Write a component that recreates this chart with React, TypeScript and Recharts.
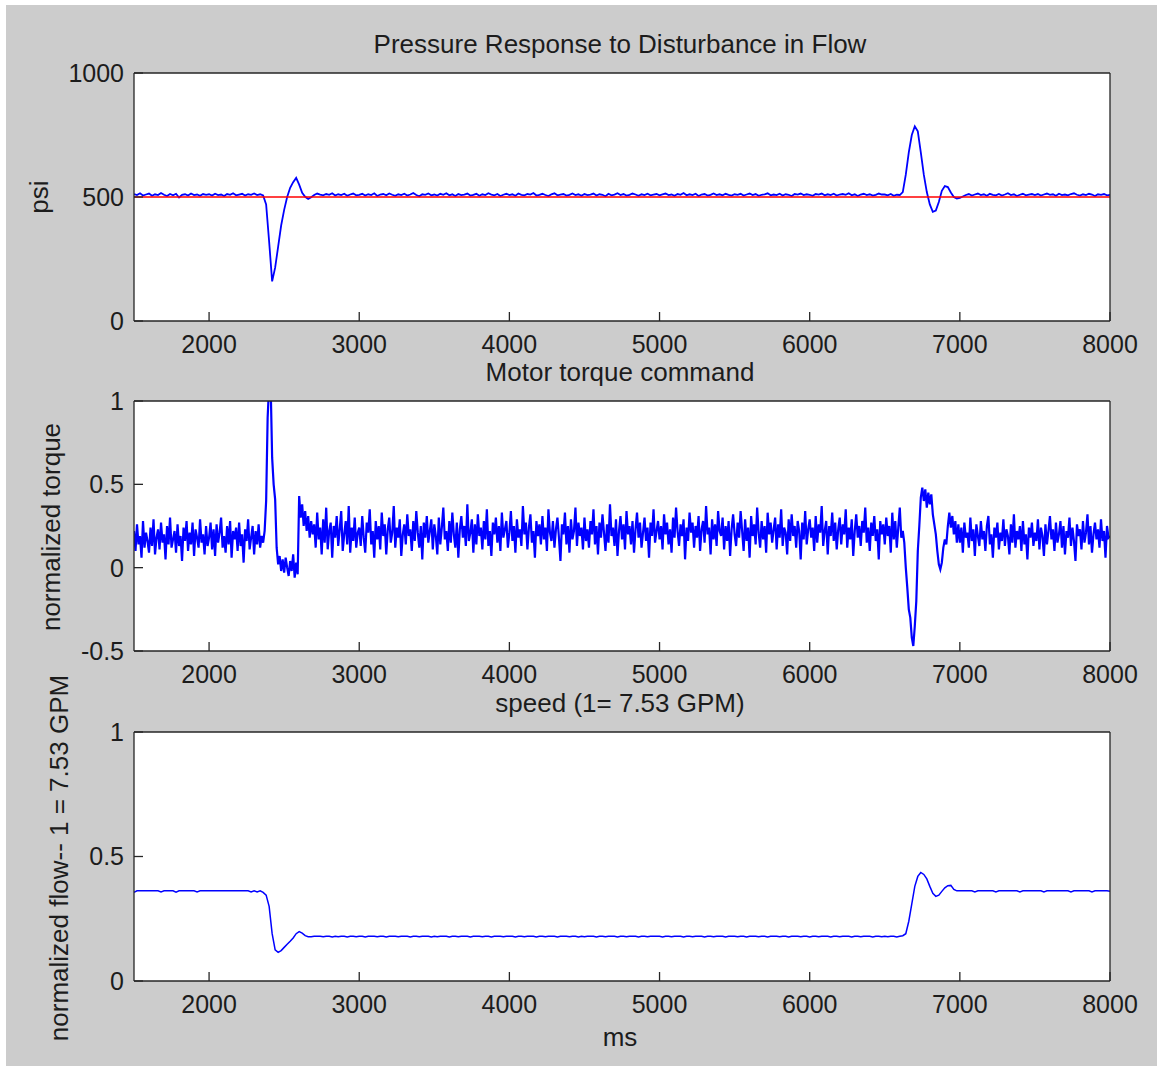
import React from "react";
import { Line, LineChart, XAxis, YAxis } from "recharts";

// sampling grids of the logged run (ms)
const SAMPLE_START = 1500;
const SLOW_STEP = 20; // pressure + speed
const FAST_STEP = 10; // torque command

const X_TICKS = [2000, 3000, 4000, 5000, 6000, 7000, 8000];
const PSI_TICKS = [0, 500, 1000];
const TORQUE_TICKS = [-0.5, 0, 0.5, 1];
const FLOW_TICKS = [0, 0.5, 1];

const SETPOINT_PSI = 500;

// pressure (psi), 20 ms samples, one row = 500 ms
const PRESSURE = [
  512, 508, 515, 506, 510, 514, 505, 511, 508, 516, 509, 504, 512, 507, 513, 498, 509, 511, 506, 514, 508, 510, 505, 512, 509,
  511, 506, 513, 508, 510, 504, 512, 509, 515, 507, 510, 513, 506, 511, 509, 514, 508, 511, 506, 470, 320, 160, 215, 300, 385,
  448, 500, 537, 560, 577, 550, 517, 501, 492, 499, 508, 514, 510, 507, 512, 509, 515, 506, 511, 508, 513, 505, 510, 514, 507,
  509, 513, 506, 511, 508, 515, 504, 510, 512, 507, 514, 509, 505, 511, 508, 513, 506, 510, 516, 508, 503, 511, 509, 514, 507,
  510, 506, 513, 509, 515, 507, 511, 504, 512, 508, 510, 514, 506, 509, 513, 505, 511, 508, 515, 510, 507, 512, 504, 509, 513,
  508, 511, 505, 514, 509, 507, 512, 510, 516, 506, 509, 513, 508, 504, 511, 515, 507, 510, 512, 506, 509, 514, 508, 511, 505,
  512, 508, 510, 514, 506, 511, 509, 503, 513, 507, 510, 515, 508, 512, 506, 509, 514, 510, 505, 511, 508, 513, 507, 510, 512,
  507, 511, 514, 508, 510, 505, 512, 509, 516, 507, 511, 508, 513, 504, 510, 512, 506, 509, 514, 508, 511, 507, 513, 509, 506,
  511, 509, 513, 506, 510, 514, 508, 512, 505, 509, 511, 515, 507, 510, 508, 513, 506, 511, 509, 504, 512, 510, 514, 508, 511,
  509, 505, 512, 510, 514, 507, 511, 508, 513, 506, 510, 512, 509, 515, 507, 511, 504, 510, 513, 508, 511, 506, 509, 514, 510,
  510, 507, 512, 505, 509, 508, 520, 590, 680, 750, 785, 765, 680, 590, 520, 470, 440, 445, 480, 525, 544, 540, 518, 500, 494,
  496, 502, 508, 512, 506, 510, 514, 508, 511, 505, 513, 509, 507, 512, 506, 510, 515, 508, 511, 504, 509, 513, 507, 510, 512,
  508, 512, 506, 510, 514, 509, 511, 505, 513, 508, 510, 507, 512, 515, 509, 506, 511, 508, 513, 510, 504, 511, 509, 512, 507,
  509,
];

// pump speed, normalized flow (1 = 7.53 GPM), 20 ms samples
const FLOW = [
  0.356, 0.362, 0.362, 0.362, 0.362, 0.362, 0.362, 0.362, 0.362, 0.358, 0.362, 0.362, 0.362, 0.362, 0.357, 0.362, 0.362, 0.362, 0.362, 0.362, 0.362, 0.358, 0.362, 0.362, 0.362,
  0.362, 0.362, 0.362, 0.362, 0.362, 0.362, 0.362, 0.362, 0.362, 0.362, 0.362, 0.362, 0.362, 0.362, 0.358, 0.362, 0.358, 0.362, 0.356, 0.345, 0.3, 0.19, 0.125, 0.115, 0.122,
  0.135, 0.148, 0.16, 0.173, 0.19, 0.198, 0.192, 0.182, 0.178, 0.178, 0.18, 0.18, 0.18, 0.178, 0.18, 0.18, 0.177, 0.18, 0.178, 0.18, 0.18, 0.177, 0.18, 0.18, 0.178,
  0.18, 0.18, 0.177, 0.18, 0.18, 0.18, 0.178, 0.18, 0.18, 0.177, 0.18, 0.18, 0.18, 0.178, 0.18, 0.18, 0.18, 0.177, 0.18, 0.18, 0.178, 0.18, 0.18, 0.18, 0.177,
  0.18, 0.178, 0.18, 0.18, 0.18, 0.177, 0.18, 0.18, 0.178, 0.18, 0.18, 0.18, 0.177, 0.18, 0.18, 0.18, 0.178, 0.18, 0.18, 0.177, 0.18, 0.18, 0.18, 0.178, 0.18,
  0.18, 0.18, 0.177, 0.18, 0.18, 0.178, 0.18, 0.18, 0.18, 0.177, 0.18, 0.18, 0.178, 0.18, 0.18, 0.18, 0.177, 0.18, 0.18, 0.18, 0.178, 0.18, 0.18, 0.177, 0.18,
  0.178, 0.18, 0.18, 0.18, 0.177, 0.18, 0.18, 0.178, 0.18, 0.18, 0.18, 0.177, 0.18, 0.18, 0.178, 0.18, 0.18, 0.18, 0.177, 0.18, 0.18, 0.178, 0.18, 0.18, 0.18,
  0.18, 0.177, 0.18, 0.18, 0.178, 0.18, 0.18, 0.18, 0.177, 0.18, 0.18, 0.178, 0.18, 0.18, 0.18, 0.177, 0.18, 0.18, 0.178, 0.18, 0.18, 0.18, 0.177, 0.18, 0.18,
  0.18, 0.178, 0.18, 0.18, 0.177, 0.18, 0.18, 0.18, 0.178, 0.18, 0.18, 0.177, 0.18, 0.18, 0.18, 0.178, 0.18, 0.18, 0.177, 0.18, 0.18, 0.18, 0.178, 0.18, 0.18,
  0.177, 0.18, 0.18, 0.178, 0.18, 0.18, 0.18, 0.177, 0.18, 0.18, 0.178, 0.18, 0.18, 0.18, 0.177, 0.18, 0.18, 0.178, 0.18, 0.18, 0.18, 0.177, 0.18, 0.18, 0.178,
  0.18, 0.178, 0.18, 0.18, 0.177, 0.18, 0.182, 0.19, 0.24, 0.31, 0.38, 0.42, 0.436, 0.428, 0.41, 0.38, 0.352, 0.34, 0.345, 0.36, 0.374, 0.383, 0.384, 0.368, 0.362,
  0.362, 0.362, 0.362, 0.362, 0.362, 0.358, 0.362, 0.362, 0.362, 0.362, 0.362, 0.362, 0.358, 0.362, 0.362, 0.362, 0.362, 0.362, 0.362, 0.362, 0.358, 0.362, 0.362, 0.362, 0.362,
  0.362, 0.362, 0.362, 0.358, 0.362, 0.362, 0.362, 0.362, 0.362, 0.362, 0.362, 0.362, 0.358, 0.362, 0.362, 0.362, 0.362, 0.362, 0.362, 0.358, 0.362, 0.362, 0.362, 0.362, 0.362,
  0.36,
];

// normalized motor torque command, 10 ms samples, one row = 500 ms
const TORQUE = [
  // 1500
  0.22, 0.1, 0.26, 0.14, 0.19, 0.06, 0.28, 0.12, 0.21, 0.16,
  0.09, 0.24, 0.13, 0.29, 0.08, 0.18, 0.23, 0.11, 0.27, 0.15,
  0.2, 0.05, 0.25, 0.14, 0.3, 0.12, 0.17, 0.22, 0.09, 0.26,
  0.13, 0.19, 0.04, 0.24, 0.16, 0.28, 0.1, 0.21, 0.14, 0.27,
  0.07, 0.23, 0.18, 0.12, 0.29, 0.15, 0.2, 0.08, 0.25, 0.13,
  // 2000
  0.18, 0.27, 0.11, 0.23, 0.07, 0.26, 0.15, 0.21, 0.3, 0.12,
  0.19, 0.09, 0.25, 0.14, 0.28, 0.06, 0.22, 0.17, 0.24, 0.1,
  0.27, 0.13, 0.2, 0.03, 0.23, 0.16, 0.29, 0.11, 0.18, 0.25,
  0.08, 0.22, 0.14, 0.26, 0.12, 0.19, 0.15, 0.22, 0.4, 0.9,
  1.1, 1.1, 0.66, 0.5, 0.41, 0.12, 0.02, 0.07, -0.02, 0.05,
  // 2500
  -0.03, 0.06, 0.0, -0.05, 0.04, -0.02, 0.08, -0.06, 0.03, -0.04,
  0.43, 0.3, 0.38, 0.25, 0.34, 0.22, 0.31, 0.18, 0.28, 0.2,
  0.26, 0.12, 0.33, 0.17, 0.24, 0.08, 0.29, 0.15, 0.36, 0.11,
  0.22, 0.27, 0.06, 0.25, 0.18, 0.31, 0.13, 0.23, 0.34, 0.1,
  0.2, 0.28, 0.14, 0.37, 0.09, 0.24, 0.16, 0.3, 0.12, 0.21,
  // 3000
  0.24, 0.13, 0.31, 0.18, 0.09, 0.27, 0.21, 0.35, 0.14, 0.22,
  0.06, 0.28, 0.17, 0.25, 0.11, 0.33, 0.19, 0.26, 0.08, 0.23,
  0.3, 0.15, 0.21, 0.37, 0.12, 0.24, 0.18, 0.29, 0.07, 0.2,
  0.26, 0.14, 0.32, 0.19, 0.23, 0.1, 0.28, 0.16, 0.34, 0.21,
  0.12, 0.25, 0.05, 0.27, 0.18, 0.31, 0.15, 0.22, 0.29, 0.11,
  // 3500
  0.26, 0.19, 0.08, 0.3, 0.14, 0.24, 0.36, 0.17, 0.22, 0.1,
  0.28, 0.15, 0.33, 0.2, 0.12, 0.27, 0.06, 0.23, 0.31, 0.18,
  0.25, 0.13, 0.38, 0.16, 0.21, 0.29, 0.09, 0.26, 0.14, 0.32,
  0.19, 0.24, 0.11, 0.28, 0.17, 0.35, 0.13, 0.22, 0.07, 0.27,
  0.2, 0.3, 0.15, 0.25, 0.1, 0.33, 0.18, 0.23, 0.28, 0.12,
  // 4000
  0.21, 0.34, 0.16, 0.25, 0.09, 0.29, 0.18, 0.23, 0.13, 0.37,
  0.2, 0.27, 0.11, 0.24, 0.32, 0.15, 0.22, 0.06, 0.28, 0.19,
  0.26, 0.14, 0.31, 0.17, 0.24, 0.1, 0.35, 0.21, 0.16, 0.28,
  0.12, 0.23, 0.3, 0.18, 0.04, 0.26, 0.2, 0.33, 0.14, 0.25,
  0.09, 0.29, 0.17, 0.22, 0.36, 0.13, 0.27, 0.19, 0.24, 0.11,
  // 4500
  0.3, 0.16, 0.23, 0.12, 0.28, 0.2, 0.35, 0.14, 0.25, 0.08,
  0.27, 0.18, 0.32, 0.21, 0.1, 0.26, 0.15, 0.38, 0.19, 0.24,
  0.13, 0.29, 0.07, 0.22, 0.31, 0.17, 0.26, 0.11, 0.34, 0.2,
  0.25, 0.14, 0.28, 0.09, 0.23, 0.33, 0.18, 0.27, 0.12, 0.21,
  0.3, 0.16, 0.24, 0.06, 0.27, 0.19, 0.35, 0.15, 0.22, 0.28,
  // 5000
  0.17, 0.25, 0.11, 0.32, 0.2, 0.27, 0.14, 0.23, 0.09, 0.3,
  0.18, 0.36, 0.22, 0.13, 0.26, 0.19, 0.29, 0.05, 0.24, 0.16,
  0.33, 0.21, 0.27, 0.12, 0.25, 0.18, 0.31, 0.1, 0.23, 0.28,
  0.15, 0.37, 0.2, 0.24, 0.08, 0.29, 0.17, 0.26, 0.13, 0.34,
  0.22, 0.19, 0.3, 0.11, 0.25, 0.16, 0.28, 0.07, 0.23, 0.32,
  // 5500
  0.2, 0.13, 0.27, 0.18, 0.34, 0.22, 0.1, 0.29, 0.16, 0.24,
  0.06, 0.31, 0.19, 0.26, 0.14, 0.36, 0.21, 0.12, 0.28, 0.17,
  0.25, 0.09, 0.33, 0.2, 0.27, 0.15, 0.23, 0.3, 0.11, 0.26,
  0.18, 0.35, 0.13, 0.24, 0.21, 0.08, 0.29, 0.16, 0.32, 0.19,
  0.25, 0.12, 0.28, 0.22, 0.05, 0.27, 0.17, 0.34, 0.14, 0.23,
  // 6000
  0.29, 0.18, 0.24, 0.1, 0.31, 0.15, 0.26, 0.21, 0.37, 0.13,
  0.22, 0.28, 0.08, 0.25, 0.19, 0.33, 0.16, 0.27, 0.11, 0.23,
  0.3, 0.14, 0.26, 0.2, 0.35, 0.12, 0.24, 0.17, 0.29, 0.07,
  0.22, 0.32, 0.18, 0.25, 0.13, 0.28, 0.21, 0.36, 0.15, 0.24,
  0.1, 0.27, 0.19, 0.31, 0.16, 0.23, 0.05, 0.28, 0.2, 0.26,
  // 6500
  0.14, 0.3, 0.19, 0.25, 0.09, 0.33, 0.17, 0.28, 0.12, 0.24,
  0.36, 0.18, 0.22, 0.15, 0.0, -0.12, -0.25, -0.3, -0.42, -0.47,
  -0.35, -0.2, 0.1, 0.25, 0.42, 0.48, 0.4, 0.47, 0.36, 0.45,
  0.38, 0.44, 0.32, 0.26, 0.2, 0.1, 0.02, -0.01, 0.03, 0.12,
  0.17, 0.14, 0.25, 0.33, 0.24, 0.31, 0.2, 0.28, 0.15, 0.26,
  // 7000
  0.15, 0.24, 0.09, 0.27, 0.18, 0.21, 0.12, 0.3, 0.16, 0.23,
  0.07, 0.26, 0.19, 0.13, 0.28, 0.17, 0.22, 0.1, 0.25, 0.31,
  0.14, 0.2, 0.06, 0.24, 0.18, 0.27, 0.11, 0.21, 0.16, 0.29,
  0.13, 0.23, 0.19, 0.08, 0.26, 0.15, 0.32, 0.12, 0.22, 0.17,
  0.25, 0.1, 0.28, 0.14, 0.2, 0.05, 0.24, 0.18, 0.27, 0.13,
  // 7500
  0.21, 0.16, 0.29, 0.11, 0.24, 0.19, 0.07, 0.26, 0.14, 0.22,
  0.31, 0.17, 0.23, 0.1, 0.27, 0.15, 0.2, 0.28, 0.12, 0.25,
  0.08, 0.22, 0.18, 0.3, 0.13, 0.24, 0.16, 0.04, 0.26, 0.19,
  0.23, 0.11, 0.28, 0.15, 0.21, 0.32, 0.14, 0.25, 0.09, 0.2,
  0.27, 0.17, 0.23, 0.12, 0.29, 0.16, 0.22, 0.06, 0.25, 0.18,
  // 8000
  0.19,
];

const slowRows = PRESSURE.map((p, i) => ({
  t: SAMPLE_START + i * SLOW_STEP,
  pressure: p,
  setpoint: SETPOINT_PSI,
  flow: FLOW[i],
}));

const torqueRows = TORQUE.map((v, i) => ({ t: SAMPLE_START + i * FAST_STEP, torque: v }));

const W = 1157;
const FONT = "'Liberation Sans', Arial, Helvetica, sans-serif";
const INK = "#1c1c1c";
const TICK = { fontSize: 25, fill: INK, fontFamily: FONT };
const TICK_LEN = -9; // negative = ticks point into the box, like matlab

type Series = { key: string; color: string; width: number };

function Panel(props: {
  data: object[];
  top: number;
  height: number;
  plotTop: number;
  plotBottom: number;
  domain: [number, number];
  ticks: number[];
  series: Series[];
}) {
  const { data, top, height, plotTop, plotBottom, domain, ticks, series } = props;
  const margin = {
    top: plotTop - top - 1,
    bottom: top + height - plotBottom - 30,
    left: 134 - 80,
    right: W - 1110 - 1,
  };
  const axisLine = { stroke: "#262626", strokeWidth: 1.3 };
  const tickLine = { stroke: "#262626", strokeWidth: 1.3 };
  return (
    <div style={{ position: "absolute", left: 0, top, width: W, height }}>
      <LineChart width={W} height={height} data={data} margin={margin}>
        <XAxis
          dataKey="t"
          type="number"
          domain={[1500, 8000]}
          ticks={X_TICKS}
          allowDataOverflow
          height={30}
          tick={TICK}
          tickSize={TICK_LEN}
          tickMargin={23}
          axisLine={axisLine}
          tickLine={tickLine}
        />
        <XAxis
          xAxisId="top"
          orientation="top"
          dataKey="t"
          type="number"
          domain={[1500, 8000]}
          ticks={X_TICKS}
          allowDataOverflow
          height={1}
          tick={false}
          tickSize={TICK_LEN}
          axisLine={axisLine}
          tickLine={tickLine}
        />
        <YAxis
          type="number"
          domain={domain}
          ticks={ticks}
          allowDataOverflow
          width={80}
          tick={TICK}
          tickSize={TICK_LEN}
          tickMargin={19}
          axisLine={axisLine}
          tickLine={tickLine}
        />
        <YAxis
          yAxisId="right"
          orientation="right"
          type="number"
          domain={domain}
          ticks={ticks}
          allowDataOverflow
          width={1}
          tick={false}
          tickSize={TICK_LEN}
          axisLine={axisLine}
          tickLine={tickLine}
        />
        {series.map((s) => (
          <Line
            key={s.key}
            dataKey={s.key}
            type="linear"
            stroke={s.color}
            strokeWidth={s.width}
            dot={false}
            activeDot={false}
            isAnimationActive={false}
          />
        ))}
      </LineChart>
    </div>
  );
}

function Labels() {
  const txt = { fontFamily: FONT, fontSize: 26, fill: INK };
  return (
    <svg
      width={W}
      height={1066}
      style={{ position: "absolute", left: 0, top: 0, pointerEvents: "none" }}
    >
      <text x={620} y={53} textAnchor="middle" {...txt}>
        Pressure Response to Disturbance in Flow
      </text>
      <text x={620} y={381} textAnchor="middle" {...txt}>
        Motor torque command
      </text>
      <text x={620} y={712} textAnchor="middle" {...txt}>
        speed (1= 7.53 GPM)
      </text>
      <text x={620} y={1046} textAnchor="middle" {...txt}>
        ms
      </text>
      <text x={48} y={197} textAnchor="middle" transform="rotate(-90 48 197)" {...txt}>
        psi
      </text>
      <text x={60} y={527} textAnchor="middle" transform="rotate(-90 60 527)" {...txt}>
        normalized torque
      </text>
      <text x={68} y={858} textAnchor="middle" transform="rotate(-90 68 858)" {...txt}>
        normalized flow-- 1 = 7.53 GPM
      </text>
    </svg>
  );
}

export default function App() {
  return (
    <div style={{ position: "absolute", left: 0, top: 0, width: W, height: 1066, background: "#ffffff" }}>
      <div style={{ position: "absolute", left: 6, top: 5, right: 0, bottom: 0, background: "#cccccc" }} />
      <div style={{ position: "absolute", left: 134, top: 73, width: 976, height: 248, background: "#fff" }} />
      <div style={{ position: "absolute", left: 134, top: 401, width: 976, height: 250, background: "#fff" }} />
      <div style={{ position: "absolute", left: 134, top: 732, width: 976, height: 249, background: "#fff" }} />
      <Panel
        data={slowRows}
        top={40}
        height={330}
        plotTop={73}
        plotBottom={321}
        domain={[0, 1000]}
        ticks={PSI_TICKS}
        series={[
          { key: "pressure", color: "#0000ff", width: 1.8 },
          { key: "setpoint", color: "#ff0000", width: 1.7 },
        ]}
      />
      <Panel
        data={torqueRows}
        top={380}
        height={320}
        plotTop={401}
        plotBottom={651}
        domain={[-0.5, 1]}
        ticks={TORQUE_TICKS}
        series={[{ key: "torque", color: "#0000ff", width: 2.2 }]}
      />
      <Panel
        data={slowRows}
        top={710}
        height={320}
        plotTop={732}
        plotBottom={981}
        domain={[0, 1]}
        ticks={FLOW_TICKS}
        series={[{ key: "flow", color: "#0000ff", width: 1.5 }]}
      />
      <Labels />
    </div>
  );
}
